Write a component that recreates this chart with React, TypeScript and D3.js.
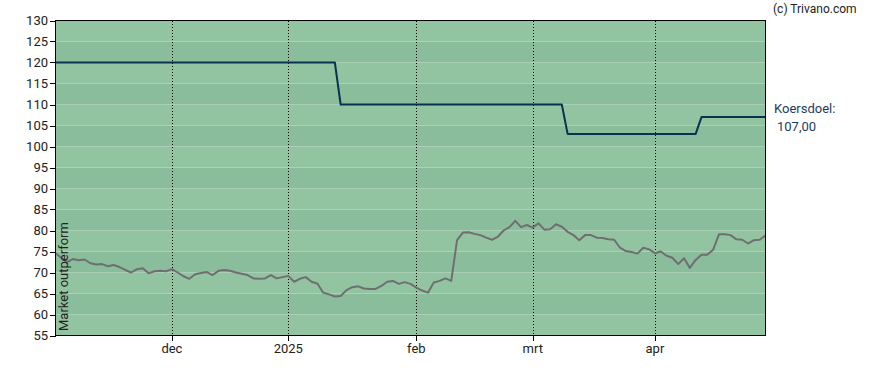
import React from 'react';
import * as d3 from 'd3';

// trading-day index based x axis
const monthLabels = ['dec', '2025', 'feb', 'mrt', 'apr'];
const monthIndex = [20, 40, 62, 82, 103];
const yTicks = [55, 60, 65, 70, 75, 80, 85, 90, 95, 100, 105, 110, 115, 120, 125, 130];

const price = [
  74.6, 73.5, 72.5, 73.2, 72.9, 73.1, 72.2, 71.9, 72.0, 71.5,
  71.8, 71.3, 70.6, 70.0, 70.8, 71.0, 69.8, 70.3, 70.4, 70.3,
  70.8, 70.0, 69.1, 68.5, 69.6, 69.9, 70.1, 69.4, 70.4, 70.6,
  70.4, 70.0, 69.7, 69.4, 68.6, 68.5, 68.6, 69.4, 68.6, 68.9,
  69.2, 67.8, 68.5, 68.9, 67.8, 67.4, 65.2, 64.8, 64.3, 64.4,
  65.8, 66.5, 66.7, 66.2, 66.1, 66.1, 66.8, 67.8, 68.0, 67.3,
  67.7, 67.3, 66.4, 65.7, 65.2, 67.6, 68.0, 68.6, 68.0, 77.7,
  79.5, 79.6, 79.2, 78.9, 78.3, 77.8, 78.5, 80.0, 80.8, 82.3,
  80.8, 81.3, 80.7, 81.7, 80.2, 80.3, 81.5, 80.9, 79.7, 78.9,
  77.7, 78.9, 78.9, 78.3, 78.2, 77.9, 77.8, 75.9, 75.1, 74.9,
  74.5, 75.9, 75.5, 74.6, 75.0, 74.0, 73.5, 72.0, 73.4, 71.1,
  73.0, 74.2, 74.2, 75.4, 79.1, 79.1, 78.9, 77.9, 77.8, 76.9,
  77.7, 77.8, 78.8,
];

// koersdoel steps: [first index, value]
const targetSteps: [number, number][] = [
  [0, 120],
  [49, 110],
  [88, 103],
  [111, 107],
];

const W = 888;
const H = 370;
const left = 55.5;
const right = 765.5;
const top = 20.5;
const bottom = 335.5;

export default function App() {
  const x = d3.scaleLinear().domain([0, price.length - 1]).range([left, right]);
  const y = d3.scaleLinear().domain([55, 130]).range([bottom, top]);

  const target = price.map((_, i) => {
    let v = targetSteps[0][1];
    targetSteps.forEach(([s, val]) => { if (i >= s) v = val; });
    return v;
  });

  const line = d3.line<number>()
    .x((_, i) => x(i))
    .y(d => y(d));

  const bands = d3.range(55, 130, 5);
  const font = 'Roboto, "Noto Sans", sans-serif';

  return (
    <svg width={W} height={H} style={{ position: 'absolute', left: 0, top: 0, fontFamily: font }}>
      <rect x={0} y={0} width={W} height={H} fill="#fff" />
      {bands.map((v, k) => (
        <rect key={v} x={left} y={y(v + 5)} width={right - left} height={y(v) - y(v + 5)}
          fill={k % 2 === 0 ? '#93c4a2' : '#8abd9b'} />
      ))}
      {monthIndex.map((m, i) => (
        <g key={monthLabels[i]}>
          <line x1={Math.round(x(m)) + 0.5} x2={Math.round(x(m)) + 0.5} y1={top} y2={bottom}
            stroke="#000" strokeDasharray="1 2" shapeRendering="crispEdges" />
          <line x1={Math.round(x(m)) + 0.5} x2={Math.round(x(m)) + 0.5} y1={bottom} y2={bottom + 5}
            stroke="#000" shapeRendering="crispEdges" />
          <text x={x(m)} y={353} textAnchor="middle" fontSize={13} fill="#222">{monthLabels[i]}</text>
        </g>
      ))}
      {yTicks.map(t => (
        <g key={t}>
          <line x1={left - 6} x2={left} y1={Math.round(y(t)) + 0.5} y2={Math.round(y(t)) + 0.5}
            stroke="#000" shapeRendering="crispEdges" />
          <text x={48} y={y(t) + 4.5} textAnchor="end" fontSize={13} fill="#222">{t}</text>
        </g>
      ))}
      <path d={line(target) || ''} fill="none" stroke="#0b3152" strokeWidth={2} strokeLinejoin="round" />
      <path d={line(price) || ''} fill="none" stroke="#6f6f72" strokeWidth={2} strokeLinejoin="round" />
      <rect x={left} y={top} width={right - left} height={bottom - top} fill="none" stroke="#000"
        shapeRendering="crispEdges" />
      <text transform={`translate(68,331) rotate(-90)`} fontSize={13} fill="#222">Market outperform</text>
      <text x={774} y={113} fontSize={13} fill="#1d3c5c">Koersdoel:</text>
      <text x={777} y={131} fontSize={13} fill="#1d3c5c">107,00</text>
      <text x={773} y={13} fontSize={12} fill="#222">(c) Trivano.com</text>
    </svg>
  );
}
